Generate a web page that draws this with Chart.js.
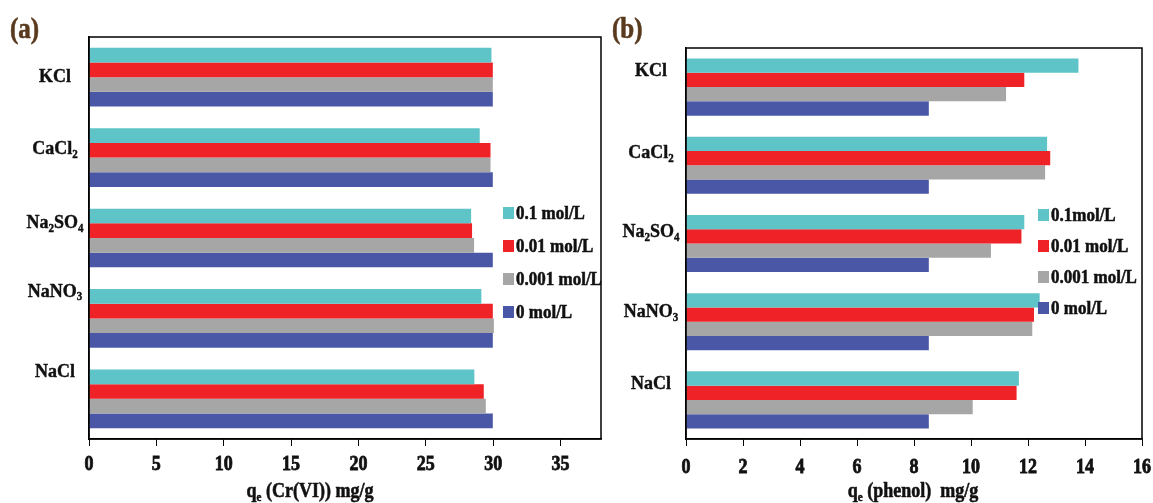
<!DOCTYPE html>
<html lang="en">
<head>
  <meta charset="UTF-8" />
  <title>Salt effect on Cr(VI) and phenol uptake</title>
  <script src="https://cdn.jsdelivr.net/npm/chart.js"></script>
  <style>
    body { margin: 0; background: #fff; }
    #wrap { position: relative; width: 1153px; height: 503px; }
    canvas { position: absolute; top: 0; }
    #chartA { left: 0; }
    #chartB { left: 610px; }
  </style>
</head>
<body>
  <div id="wrap">
    <canvas id="chartA" width="610" height="503"></canvas>
    <canvas id="chartB" width="543" height="503"></canvas>
  </div>

  <script>
    // salts, top to bottom
    const sels = ['KCl', 'CaCl₂', 'Na₂SO₄', 'NaNO₃', 'NaCl'];
    const concA = ['0.1 mol/L', '0.01 mol/L', '0.001 mol/L', '0 mol/L'];
    const concB = ['0.1mol/L', '0.01 mol/L', '0.001 mol/L', '0 mol/L'];

    // (a) qe Cr(VI), mg/g
    const cr_01 = [29.87, 29.0, 28.36, 29.12, 28.6];
    const cr_001 = [29.97, 29.8, 28.43, 29.97, 29.3];
    const cr_0001 = [29.97, 29.8, 28.58, 30.05, 29.45];
    const cr_0 = [29.97, 29.97, 29.97, 29.97, 29.97];

    // (b) qe phenol, mg/g
    const ph_01 = [13.77, 12.67, 11.87, 12.41, 11.68];
    const ph_001 = [11.87, 12.78, 11.77, 12.21, 11.6];
    const ph_0001 = [11.23, 12.6, 10.7, 12.15, 10.06];
    const ph_0 = [8.52, 8.52, 8.52, 8.52, 8.52];

    const ticksA = [0, 5, 10, 15, 20, 25, 30, 35];
    const ticksB = [0, 2, 4, 6, 8, 10, 12, 14, 16];

    const couleurs = ['#5ec4c8', '#ee2227', '#a6a6a6', '#4a57a6'];
    const serif = '"Liberation Serif", "Times New Roman", serif';

    // subscript chars are drawn as small lowered text
    const SUB = { '₀': '0', '₁': '1', '₂': '2', '₃': '3', '₄': '4', 'ₑ': 'e' };

    function morceaux(str) {
      const out = [];
      for (const ch of str) {
        const sub = ch in SUB;
        const c = sub ? SUB[ch] : ch;
        const last = out[out.length - 1];
        if (last && last.sub === sub) last.t += c;
        else out.push({ t: c, sub });
      }
      return out;
    }

    // text with subscripts, sy = vertical stretch (the original figure is squeezed sideways)
    function texteRiche(ctx, str, x, y, size, align, sy, gras) {
      const parts = morceaux(str);
      const big = `bold ${size}px ${serif}`;
      const small = `bold ${Math.round(size * 0.62)}px ${serif}`;
      let w = 0;
      parts.forEach(p => {
        ctx.font = p.sub ? small : big;
        p.w = ctx.measureText(p.t).width;
        w += p.w;
      });
      let cx = align === 'center' ? x - w / 2 : x;
      ctx.save();
      ctx.translate(0, y);
      ctx.scale(1, sy || 1);
      ctx.textAlign = 'left';
      ctx.textBaseline = 'middle';
      ctx.strokeStyle = ctx.fillStyle;
      ctx.lineWidth = gras || 0;
      parts.forEach(p => {
        ctx.font = p.sub ? small : big;
        const ty = p.sub ? size * 0.3 : 0;
        ctx.fillText(p.t, cx, ty);
        if (gras) ctx.strokeText(p.t, cx, ty);
        cx += p.w;
      });
      ctx.restore();
    }

    const decor = {
      id: 'decor',
      afterDraw(chart, args, o) {
        const ctx = chart.ctx;
        const a = chart.chartArea;
        ctx.save();
        // frame
        ctx.strokeStyle = '#000';
        ctx.lineWidth = 1.5;
        ctx.strokeRect(a.left, a.top, a.right - a.left, a.bottom - a.top);

        // panel letter
        ctx.fillStyle = '#5a3a1e';
        texteRiche(ctx, o.lettre, o.lettreX, 31, 25, 'left', 1.15, 0.5);

        ctx.fillStyle = '#111';
        // category labels
        const ys = chart.scales.y;
        chart.data.labels.forEach((lab, i) => {
          texteRiche(ctx, lab, o.labelX, ys.getPixelForValue(i) + o.decal[i], 18, 'center', 1.1, 0.4);
        });

        // x tick labels
        const xs = chart.scales.x;
        xs.ticks.forEach(t => {
          texteRiche(ctx, String(t.value), xs.getPixelForValue(t.value), o.tickY, 18, 'center', 1.15, 0.7);
        });

        // axis title
        texteRiche(ctx, o.titre, o.titreX, 492, 18, 'center', 1.15, 0.5);

        // legend
        chart.data.datasets.forEach((ds, i) => {
          const y = o.legY + i * o.legPas;
          ctx.fillStyle = ds.backgroundColor;
          ctx.fillRect(o.legX, y - 6, 11, 12);
          ctx.fillStyle = '#111';
          texteRiche(ctx, ds.label, o.legX + 13, y + 1, 17, 'left', 1.12, 0.5);
        });
        ctx.restore();
      }
    };

    function graphique(id, series, legende, ticks, max, deco) {
      new Chart(document.getElementById(id), {
        type: 'bar',
        data: {
          labels: sels,
          datasets: series.map((d, i) => ({
            label: legende[i],
            data: d,
            backgroundColor: couleurs[i],
            borderWidth: 0,
            barPercentage: 1,
            categoryPercentage: 0.73
          }))
        },
        options: {
          indexAxis: 'y',
          responsive: false,
          animation: false,
          devicePixelRatio: 1,
          layout: { padding: deco.padding },
          plugins: {
            legend: { display: false },
            tooltip: { enabled: false },
            decor: deco
          },
          scales: {
            x: {
              min: 0,
              max: max,
              afterBuildTicks: s => { s.ticks = ticks.map(v => ({ value: v })); },
              afterFit: s => { s.height = 64; },
              grid: { display: true, drawOnChartArea: false, drawTicks: true, tickLength: 7, color: '#000', lineWidth: 1 },
              border: { display: true, color: '#000', width: 1.5 },
              ticks: { display: false }
            },
            y: {
              afterFit: s => { s.width = deco.largeurAxe; },
              grid: { display: false },
              border: { display: true, color: '#000', width: 1.5 },
              ticks: { display: false }
            }
          }
        },
        plugins: [decor]
      });
    }

    graphique('chartA', [cr_01, cr_001, cr_0001, cr_0], concA, ticksA, 38, {
      padding: { top: 37, right: 9, bottom: 0, left: 0 },
      largeurAxe: 89,
      lettre: '(a)', lettreX: 10,
      titre: 'qₑ (Cr(VI)) mg/g', titreX: 310,
      labelX: 55, decal: [0, -9, -15, -27, -27],
      tickY: 465,
      legX: 503, legY: 213, legPas: 33
    });

    graphique('chartB', [ph_01, ph_001, ph_0001, ph_0], concB, ticksB, 16, {
      padding: { top: 48, right: 11, bottom: 0, left: 0 },
      largeurAxe: 76,
      lettre: '(b)', lettreX: 2,
      titre: 'qₑ (phenol)  mg/g', titreX: 303,
      labelX: 41, decal: [-16, -12, -12, -10, -16],
      tickY: 468,
      legX: 428, legY: 215, legPas: 31
    });
  </script>
</body>
</html>
